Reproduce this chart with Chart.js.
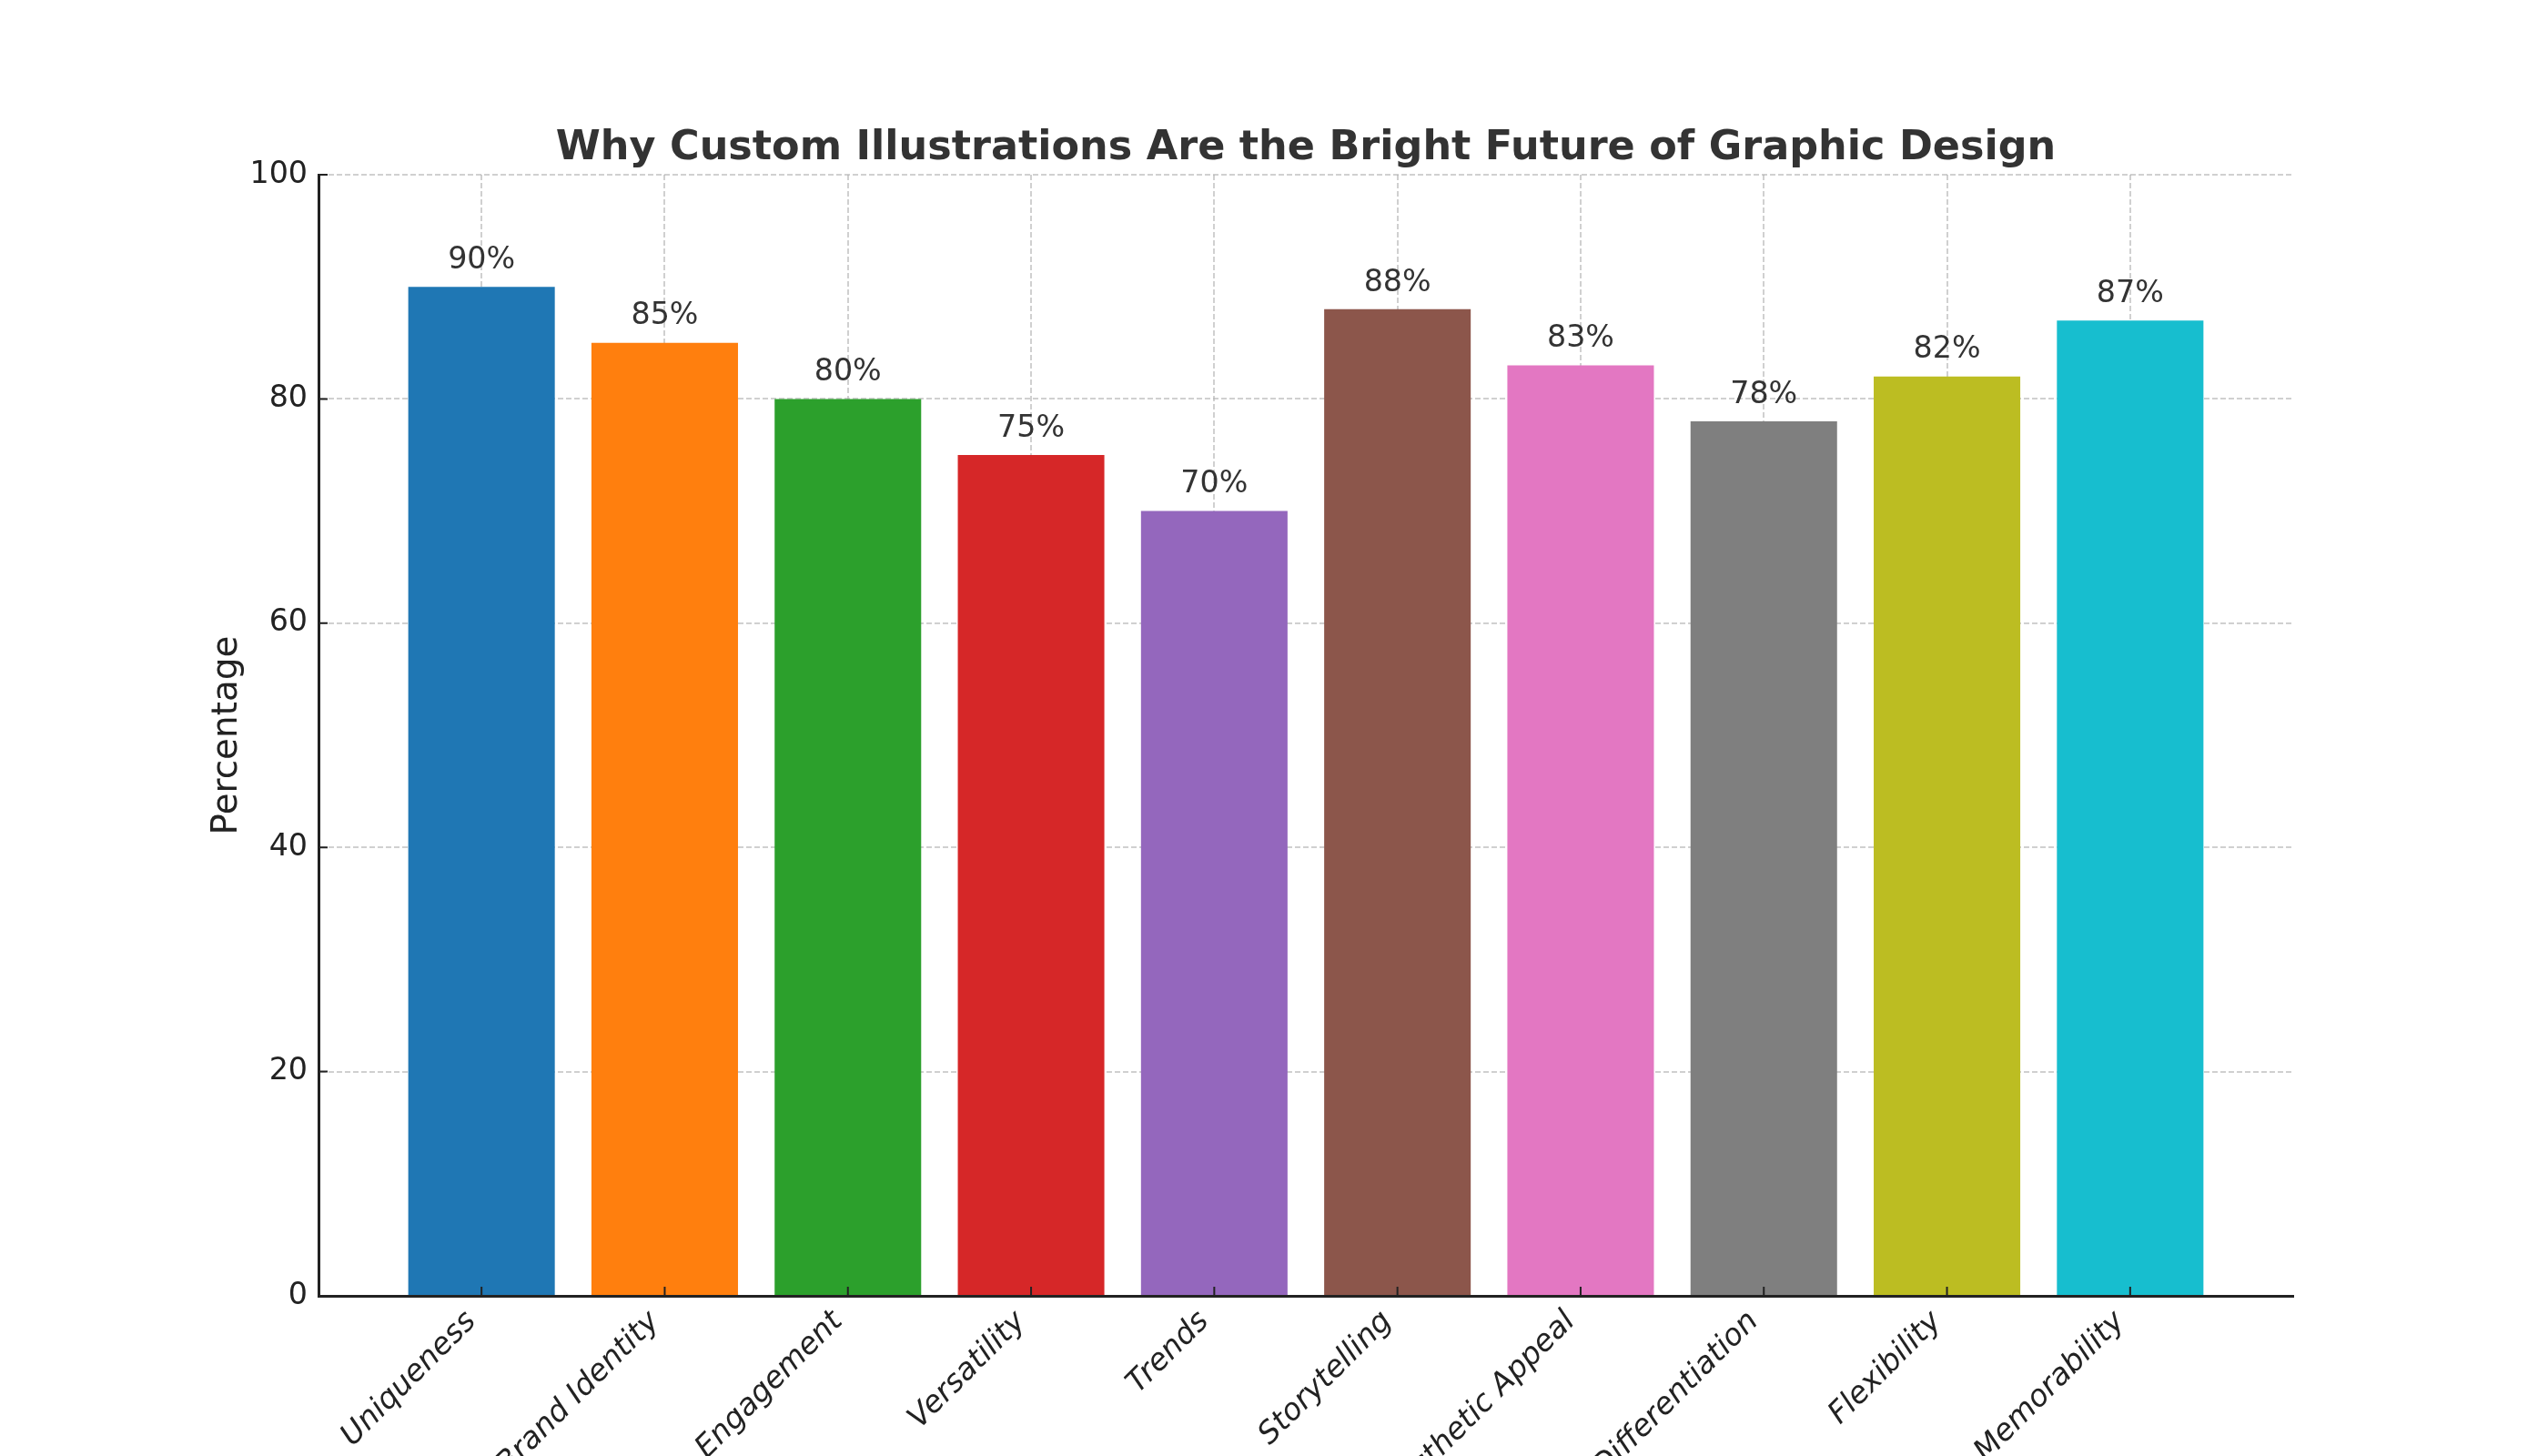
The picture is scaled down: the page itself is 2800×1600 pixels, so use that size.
<!DOCTYPE html>
<html>
<head>
<meta charset="utf-8">
<script src="https://cdn.jsdelivr.net/npm/chart.js@4/dist/chart.umd.min.js"></script>
<style>
  html, body { margin: 0; padding: 0; background: #fff; overflow: hidden; }
  #wrap { width: 2800px; height: 1600px; }
</style>
</head>
<body>
<div id="wrap"><canvas id="chart" width="2800" height="1600"></canvas></div>
<script>
const categories = ["Uniqueness", "Brand Identity", "Engagement", "Versatility", "Trends",
    "Storytelling", "Aesthetic Appeal", "Differentiation", "Flexibility", "Memorability"];
const percentages = [90, 85, 80, 75, 70, 88, 83, 78, 82, 87];
const barColors = ["#1f77b4", "#ff7f0e", "#2ca02c", "#d62728", "#9467bd",
    "#8c564b", "#e377c2", "#7f7f7f", "#bcbd22", "#17becf"];
const yTicks = [0, 20, 40, 60, 80, 100];
const chartTitle = "Why Custom Illustrations Are the Bright Future of Graphic Design";

const FONT = "DejaVu Sans";
const GRID = "rgba(176,176,176,0.6)";

// title centred over the plot area, like matplotlib's ax.set_title
const plotTitle = {
    id: "plotTitle",
    afterDraw(chart) {
        const ctx = chart.ctx;
        const area = chart.chartArea;
        ctx.save();
        ctx.font = `bold 44.5px "${FONT}"`;
        ctx.fillStyle = "#333333";
        ctx.textAlign = "center";
        ctx.textBaseline = "alphabetic";
        ctx.fillText(chartTitle, (area.left + area.right) / 2, 175);
        ctx.restore();
    },
};

// percentage text above each bar
const valueLabels = {
    id: "valueLabels",
    afterDraw(chart) {
        const ctx = chart.ctx;
        const meta = chart.getDatasetMeta(0);
        const y = chart.scales.y;
        ctx.save();
        ctx.font = `33.3px "${FONT}"`;
        ctx.fillStyle = "#333333";
        ctx.textAlign = "center";
        ctx.textBaseline = "bottom";
        meta.data.forEach((bar, i) => {
            ctx.fillText(percentages[i] + "%", bar.x, y.getPixelForValue(percentages[i] + 1));
        });
        ctx.restore();
    },
};

// matplotlib style ticks pointing into the plot
const innerTicks = {
    id: "innerTicks",
    afterDraw(chart) {
        const ctx = chart.ctx;
        const { x, y } = chart.scales;
        const area = chart.chartArea;
        ctx.save();
        ctx.strokeStyle = "#222222";
        ctx.lineWidth = 2;
        ctx.beginPath();
        x.ticks.forEach((t) => {
            const px = x.getPixelForValue(t.value);
            ctx.moveTo(px, area.bottom);
            ctx.lineTo(px, area.bottom - 10);
        });
        y.ticks.forEach((t) => {
            const py = y.getPixelForValue(t.value);
            ctx.moveTo(area.left, py);
            ctx.lineTo(area.left + 10, py);
        });
        ctx.stroke();
        ctx.restore();
    },
};

new Chart(document.getElementById("chart").getContext("2d"), {
    type: "bar",
    data: {
        datasets: [
            {
                data: percentages.map((v, i) => ({ x: i, y: v })),
                backgroundColor: barColors,
                borderWidth: 0,
                barPercentage: 0.8,
                categoryPercentage: 1.0,
            },
        ],
    },
    options: {
        responsive: false,
        animation: false,
        layout: { padding: { top: 192, left: 200, right: 280, bottom: 0 } },
        plugins: {
            legend: { display: false },
            tooltip: { enabled: false },
            title: { display: false },
        },
        scales: {
            x: {
                type: "linear",
                min: -0.89,
                max: 9.89,
                offset: false,
                z: 1,
                afterBuildTicks: (scale) => {
                    scale.ticks = categories.map((c, i) => ({ value: i }));
                },
                afterFit: (scale) => {
                    scale.height = 176;
                },
                ticks: {
                    autoSkip: false,
                    minRotation: 45,
                    maxRotation: 45,
                    padding: 9,
                    labelOffset: -11,
                    color: "#222222",
                    font: { family: FONT, size: 33.3, style: "italic" },
                    callback: (v) => categories[v],
                },
                grid: {
                    color: GRID,
                    lineWidth: 2,
                    offset: false,
                    drawTicks: false,
                },
                border: { display: true, color: "#222222", width: 3, dash: [6, 3] },
            },
            y: {
                min: 0,
                max: 100,
                z: 1,
                afterBuildTicks: (scale) => {
                    scale.ticks = yTicks.map((v) => ({ value: v }));
                },
                afterFit: (scale) => {
                    scale.width = 150;
                },
                ticks: {
                    padding: 12,
                    color: "#222222",
                    font: { family: FONT, size: 33.3 },
                },
                title: {
                    display: true,
                    text: "Percentage",
                    color: "#222222",
                    font: { family: FONT, size: 38.9 },
                    padding: { top: 27, bottom: 0 },
                },
                grid: {
                    color: (c) => (c.tick && c.tick.value === 0 ? "rgba(0,0,0,0)" : GRID),
                    lineWidth: 2,
                    drawTicks: false,
                },
                border: { display: true, color: "#222222", width: 3, dash: [6, 3] },
            },
        },
    },
    plugins: [plotTitle, valueLabels, innerTicks],
});
</script>
</body>
</html>
